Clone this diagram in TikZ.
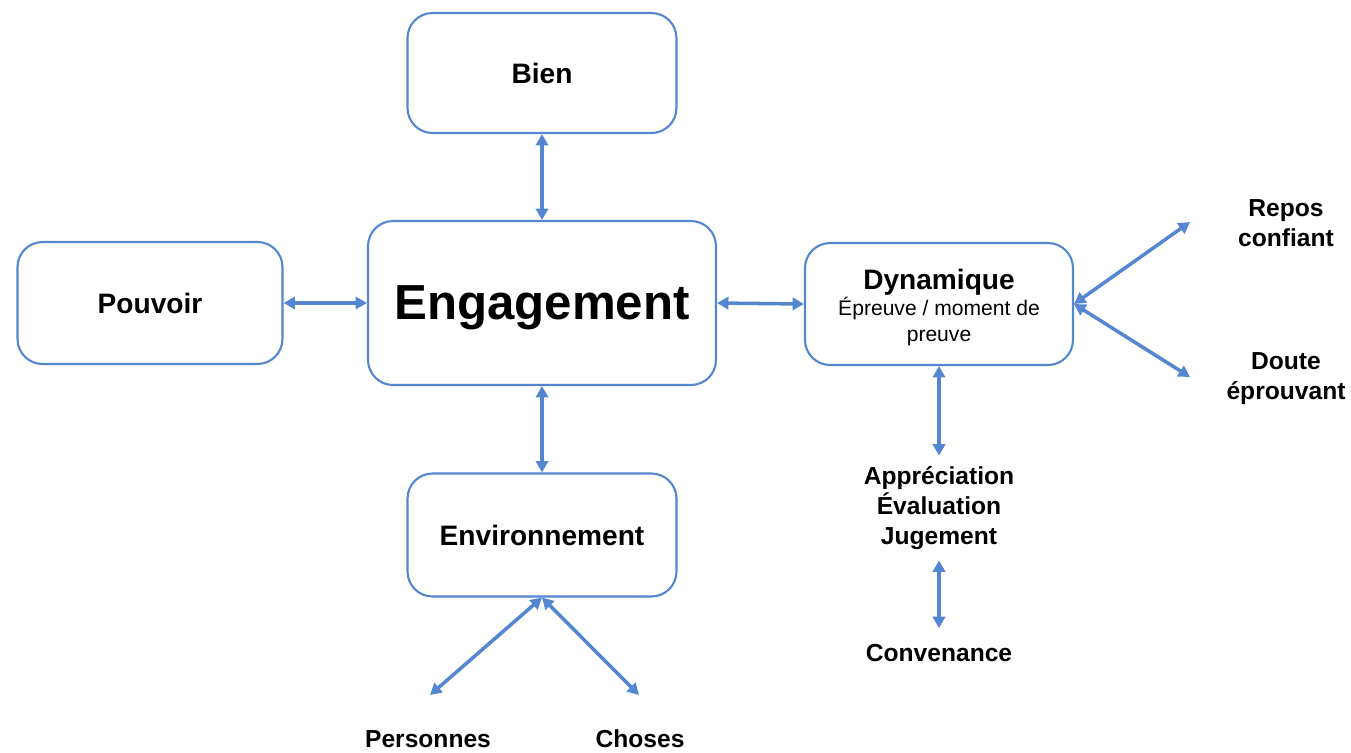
\documentclass[tikz,border=0pt]{standalone}
\usepackage{fontspec}
\setmainfont{Liberation Sans}
\usetikzlibrary{arrows.meta}

\definecolor{boxblue}{RGB}{84,135,208}

\tikzset{
    box/.style={draw=boxblue, line width=1.2pt, rounded corners=0.5cm, fill=white,
        align=center, font=\fontsize{16}{19}\selectfont\bfseries},
    link/.style={draw=boxblue, line width=2pt,
        {Triangle[length=6.5pt,width=7pt]}-{Triangle[length=6.5pt,width=7pt]}},
    lbl/.style={align=center, inner sep=0pt, font=\fontsize{14}{17}\selectfont\bfseries}
}

\begin{document}
\begin{tikzpicture}[x=0.02cm, y=-0.02cm]
            \useasboundingbox (0,0) rectangle (1351,752);

            % Boxes
            \node[box, minimum width=5.38cm, minimum height=2.4cm] (bien) at (542,73) {Bien};
            \node[box, minimum width=5.3cm, minimum height=2.44cm] (pouvoir) at (150,303) {Pouvoir};
            \node[box, minimum width=6.96cm, minimum height=3.28cm, text depth=0pt,
                font=\fontsize{28}{32}\selectfont\bfseries] (engagement) at (542,303) {Engagement};
            \node[box, minimum width=5.36cm, minimum height=2.44cm,
                font=\fontsize{12}{14.8}\selectfont] (dynamique) at (939,304)
                {\rule{0pt}{16pt}{\fontsize{16}{15.4}\selectfont\bfseries Dynamique}\\Épreuve / moment de\\preuve};
            \node[box, minimum width=5.38cm, minimum height=2.46cm] (environnement) at (542,535) {Environnement};

            % Labels
            \node[lbl] (repos) at (1286,223) {Repos\\confiant};
            \node[lbl] (doute) at (1286,379) {Doute\\éprouvant};
            \node[lbl] (evaluation) at (939,508) {Appréciation\\Évaluation\\Jugement};
            \node[lbl] (convenance) at (939,653) {Convenance};
            \node[lbl] (personnes) at (428,739) {Personnes};
            \node[lbl] (choses) at (640,739) {Choses};

            % Free ends
            \coordinate (reposend) at (1190,222);
            \coordinate (douteend) at (1190,377);
            \coordinate (personnesend) at (430,695);
            \coordinate (chosesend) at (639,695);

            % Links
            \draw[link] (bien.south) -- (engagement.north);
            \draw[link] (pouvoir.east) -- (engagement.west);
            \draw[link] (engagement.east) -- (dynamique.west);
            \draw[link] (engagement.south) -- (environnement.north);
            \draw[link] (dynamique.east) -- (reposend);
            \draw[link] (dynamique.east) -- (douteend);
            \draw[link] (dynamique.south) -- ([yshift=6pt]evaluation.north);
            \draw[link] ([yshift=-6pt]evaluation.south) -- ([yshift=9pt]convenance.north);
            \draw[link] (environnement.south) -- (personnesend);
            \draw[link] (environnement.south) -- (chosesend);
        \end{tikzpicture}
\end{document}
